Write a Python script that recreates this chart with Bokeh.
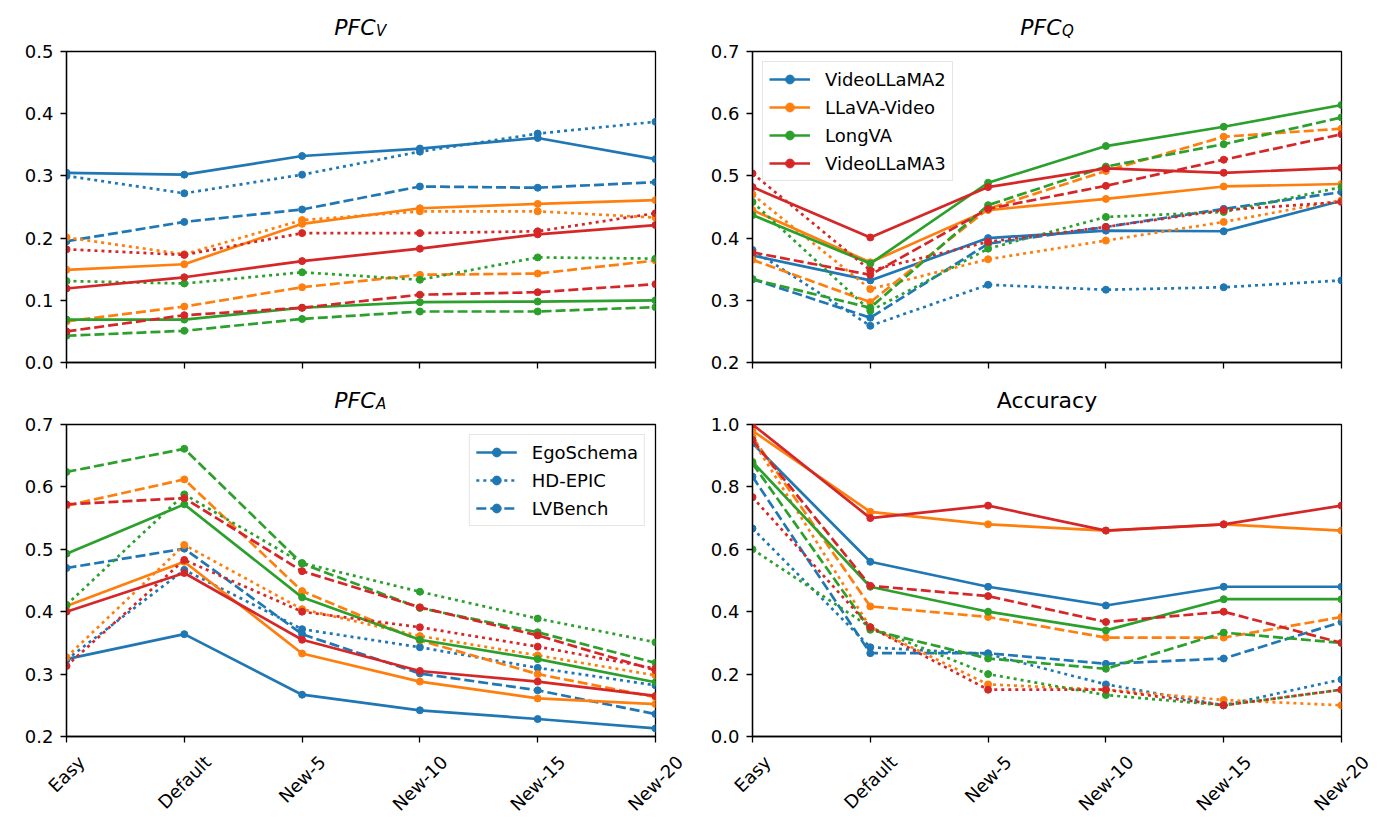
import math
from bokeh.plotting import figure
from bokeh.layouts import column, row
from bokeh.models import Range1d, FixedTicker, NumeralTickFormatter, Legend, LegendItem
from bokeh.core.properties import value
from bokeh.embed import file_html
from bokeh.resources import INLINE

categories = ["Easy", "Default", "New-5", "New-10", "New-15", "New-20"]
models = ["VideoLLaMA2", "LLaVA-Video", "LongVA", "VideoLLaMA3"]
datasets = ["EgoSchema", "HD-EPIC", "LVBench"]

# ---------------- PFC_V ----------------
v_vl2_ego = [0.305, 0.302, 0.332, 0.344, 0.361, 0.327]
v_vl2_hd  = [0.300, 0.272, 0.302, 0.339, 0.368, 0.387]
v_vl2_lv  = [0.195, 0.226, 0.246, 0.283, 0.281, 0.290]
v_llv_ego = [0.149, 0.158, 0.223, 0.248, 0.255, 0.261]
v_llv_hd  = [0.201, 0.174, 0.229, 0.243, 0.243, 0.233]
v_llv_lv  = [0.066, 0.090, 0.121, 0.141, 0.143, 0.164]
v_lva_ego = [0.069, 0.069, 0.088, 0.097, 0.098, 0.100]
v_lva_hd  = [0.131, 0.127, 0.145, 0.133, 0.169, 0.167]
v_lva_lv  = [0.043, 0.051, 0.070, 0.082, 0.082, 0.089]
v_vl3_ego = [0.119, 0.137, 0.163, 0.183, 0.206, 0.221]
v_vl3_hd  = [0.182, 0.173, 0.208, 0.208, 0.211, 0.240]
v_vl3_lv  = [0.050, 0.076, 0.088, 0.109, 0.113, 0.126]

# ---------------- PFC_Q ----------------
q_vl2_ego = [0.372, 0.332, 0.400, 0.412, 0.411, 0.460]
q_vl2_hd  = [0.381, 0.259, 0.325, 0.317, 0.321, 0.332]
q_vl2_lv  = [0.334, 0.272, 0.391, 0.418, 0.447, 0.474]
q_llv_ego = [0.445, 0.361, 0.445, 0.463, 0.483, 0.487]
q_llv_hd  = [0.470, 0.318, 0.366, 0.396, 0.426, 0.461]
q_llv_lv  = [0.365, 0.297, 0.447, 0.508, 0.563, 0.576]
q_lva_ego = [0.437, 0.359, 0.489, 0.548, 0.579, 0.614]
q_lva_hd  = [0.458, 0.283, 0.383, 0.434, 0.442, 0.482]
q_lva_lv  = [0.334, 0.288, 0.453, 0.515, 0.551, 0.594]
q_vl3_ego = [0.482, 0.401, 0.482, 0.512, 0.505, 0.513]
q_vl3_hd  = [0.504, 0.348, 0.394, 0.418, 0.445, 0.458]
q_vl3_lv  = [0.377, 0.341, 0.447, 0.484, 0.526, 0.567]

# ---------------- PFC_A ----------------
a_vl2_ego = [0.324, 0.364, 0.267, 0.242, 0.228, 0.213]
a_vl2_hd  = [0.323, 0.467, 0.372, 0.343, 0.310, 0.282]
a_vl2_lv  = [0.470, 0.501, 0.364, 0.301, 0.274, 0.236]
a_llv_ego = [0.409, 0.480, 0.333, 0.288, 0.261, 0.252]
a_llv_hd  = [0.327, 0.507, 0.404, 0.361, 0.330, 0.298]
a_llv_lv  = [0.570, 0.612, 0.433, 0.354, 0.300, 0.263]
a_lva_ego = [0.493, 0.572, 0.423, 0.355, 0.324, 0.287]
a_lva_hd  = [0.411, 0.588, 0.478, 0.432, 0.389, 0.351]
a_lva_lv  = [0.624, 0.661, 0.477, 0.406, 0.367, 0.318]
a_vl3_ego = [0.400, 0.462, 0.355, 0.305, 0.288, 0.265]
a_vl3_hd  = [0.313, 0.483, 0.400, 0.375, 0.344, 0.309]
a_vl3_lv  = [0.572, 0.582, 0.465, 0.407, 0.362, 0.306]

# ---------------- Accuracy ----------------
acc_vl2_ego = [0.940, 0.560, 0.480, 0.420, 0.480, 0.480]
acc_vl2_hd  = [0.667, 0.286, 0.264, 0.167, 0.100, 0.183]
acc_vl2_lv  = [0.833, 0.267, 0.267, 0.233, 0.250, 0.367]
acc_llv_ego = [0.980, 0.720, 0.680, 0.660, 0.680, 0.660]
acc_llv_hd  = [0.950, 0.350, 0.167, 0.150, 0.117, 0.100]
acc_llv_lv  = [0.960, 0.417, 0.383, 0.317, 0.317, 0.383]
acc_lva_ego = [0.880, 0.480, 0.400, 0.340, 0.440, 0.440]
acc_lva_hd  = [0.600, 0.350, 0.200, 0.133, 0.100, 0.150]
acc_lva_lv  = [0.875, 0.342, 0.250, 0.217, 0.333, 0.300]
acc_vl3_ego = [1.000, 0.700, 0.740, 0.660, 0.680, 0.740]
acc_vl3_hd  = [0.767, 0.350, 0.150, 0.150, 0.100, 0.150]
acc_vl3_lv  = [0.950, 0.483, 0.450, 0.367, 0.400, 0.300]

panel_v = [[v_vl2_ego, v_vl2_hd, v_vl2_lv], [v_llv_ego, v_llv_hd, v_llv_lv],
           [v_lva_ego, v_lva_hd, v_lva_lv], [v_vl3_ego, v_vl3_hd, v_vl3_lv]]
panel_q = [[q_vl2_ego, q_vl2_hd, q_vl2_lv], [q_llv_ego, q_llv_hd, q_llv_lv],
           [q_lva_ego, q_lva_hd, q_lva_lv], [q_vl3_ego, q_vl3_hd, q_vl3_lv]]
panel_a = [[a_vl2_ego, a_vl2_hd, a_vl2_lv], [a_llv_ego, a_llv_hd, a_llv_lv],
           [a_lva_ego, a_lva_hd, a_lva_lv], [a_vl3_ego, a_vl3_hd, a_vl3_lv]]
panel_acc = [[acc_vl2_ego, acc_vl2_hd, acc_vl2_lv], [acc_llv_ego, acc_llv_hd, acc_llv_lv],
             [acc_lva_ego, acc_lva_hd, acc_lva_lv], [acc_vl3_ego, acc_vl3_hd, acc_vl3_lv]]

FONT = "DejaVu Sans"
COLORS = ["#1f77b4", "#ff7f0e", "#2ca02c", "#d62728"]
DASHES = ["solid", "3 4", "10 4"]
LW = 2.7

xs = list(range(len(categories)))
NX = len(categories) - 1

# approximate DejaVu Sans advance widths (em) used only to centre rotated labels
CW = {"E": .632, "a": .613, "s": .521, "y": .592, "D": .770, "e": .615, "f": .352,
      "u": .634, "l": .278, "t": .392, "N": .748, "w": .818, "-": .361, "0": .636,
      "1": .636, "2": .636, "5": .636}

# column geometry (left border, right border)
LEFT = (66, 40)
RIGHT = (57, 34)
FRAME_W = 589
PX_PER_UNIT = FRAME_W / NX
GAP = 11          # border between frame and neighbouring strip
LABEL_H = 72


def fig_w(b):
    return b[0] + FRAME_W + b[1]


def make_panel(data, ymin, ymax, ystep, b, height, bt, bb):
    p = figure(width=fig_w(b), height=height, output_backend="svg", toolbar_location=None,
               x_range=Range1d(0, NX), y_range=Range1d(ymin, ymax),
               min_border_left=b[0], min_border_right=b[1], min_border_top=bt, min_border_bottom=bb,
               background_fill_color="white", border_fill_color="white")
    p.grid.visible = False
    p.outline_line_color = "black"
    p.outline_line_width = 1.3

    nt = int(round((ymax - ymin) / ystep))
    p.yaxis.ticker = FixedTicker(ticks=[round(ymin + k * ystep, 3) for k in range(nt + 1)])
    p.yaxis.formatter = NumeralTickFormatter(format="0.0")
    p.xaxis.ticker = FixedTicker(ticks=xs)
    for ax in (p.xaxis[0], p.yaxis[0]):
        ax.axis_line_color = "black"
        ax.axis_line_width = 1.3
        ax.major_tick_line_color = "black"
        ax.major_tick_line_width = 1.3
        ax.major_tick_in = 0
        ax.major_tick_out = 6
        ax.minor_tick_line_color = None
        ax.major_label_text_font = FONT
        ax.major_label_text_font_size = "18px"
        ax.major_label_text_color = "black"
    p.yaxis.major_label_standoff = 7
    p.xaxis.major_label_overrides = {i: "" for i in xs}
    p.xaxis.major_label_text_font_size = "0px"
    p.xaxis.major_label_standoff = 0

    rends = {}
    for mi, m in enumerate(models):
        for di, d in enumerate(datasets):
            ys = data[mi][di]
            lr = p.line(xs, ys, line_color=COLORS[mi], line_width=LW, line_dash=DASHES[di])
            sr = p.scatter(xs, ys, size=7, fill_color=COLORS[mi], line_color=COLORS[mi])
            rends[(mi, di)] = (lr, sr)
    return p, rends


def strip(b, h, y0, y1):
    # full-width frame whose x scale matches the panel below/above it
    x0 = -b[0] / PX_PER_UNIT
    x1 = NX + b[1] / PX_PER_UNIT
    s = figure(width=fig_w(b), height=h, output_backend="svg", toolbar_location=None,
               x_range=Range1d(x0, x1), y_range=Range1d(y0, y1),
               x_axis_type=None, y_axis_type=None,
               min_border_left=0, min_border_right=0, min_border_top=0, min_border_bottom=0,
               background_fill_color="white", border_fill_color="white")
    s.outline_line_color = None
    return s


def title_strip(b, h, main, sub):
    s = strip(b, h, 0, h)
    xc = NX / 2.0
    if sub:
        wm = 22 * 1.80
        ws = 15 * 0.70
        off = (wm + ws) / 2 - ws
        s.text(x=[xc], y=[13.5], text=[main], text_font=value(FONT), text_font_size="22px",
               text_font_style="italic", text_align="right", text_baseline="middle",
               x_offset=off, text_color="black")
        s.text(x=[xc], y=[9.5], text=[sub], text_font=value(FONT), text_font_size="15px",
               text_font_style="italic", text_align="left", text_baseline="middle",
               x_offset=off + 0.5, text_color="black")
    else:
        s.text(x=[xc], y=[13.5], text=[main], text_font=value(FONT), text_font_size="22px",
               text_align="center", text_baseline="middle", text_color="black")
    return s


def label_strip(b, h):
    # y in pixels below the axis line (top of strip = GAP px below axis)
    s = strip(b, h, -(GAP + h), -GAP)
    ys = []
    for c in categories:
        w = sum(CW.get(ch, 0.6) for ch in c) * 18
        ys.append(-(15 + (w + 21) * 0.3536))
    s.text(x=xs, y=ys, text=categories, angle=math.pi / 4, text_font=value(FONT),
           text_font_size="18px", text_align="center", text_baseline="middle", text_color="black")
    return s


def style_legend(lg):
    lg.label_text_font = FONT
    lg.label_text_font_size = "18px"
    lg.label_text_color = "black"
    lg.label_height = 22
    lg.glyph_height = 22
    lg.glyph_width = 41
    lg.label_standoff = 15
    lg.spacing = 6
    lg.padding = 6
    lg.margin = 10
    lg.border_line_color = "#cccccc"
    lg.border_line_width = 1.3
    lg.background_fill_color = "white"
    lg.background_fill_alpha = 0.8


t1 = title_strip(LEFT, 40, "PFC", "V")
t2 = title_strip(RIGHT, 40, "PFC", "Q")
p1, r1 = make_panel(panel_v, 0.0, 0.5, 0.1, LEFT, GAP + 311 + 20, GAP, 20)
p2, r2 = make_panel(panel_q, 0.2, 0.7, 0.1, RIGHT, GAP + 311 + 20, GAP, 20)
t3 = title_strip(LEFT, 31, "PFC", "A")
t4 = title_strip(RIGHT, 31, "Accuracy", None)
p3, r3 = make_panel(panel_a, 0.2, 0.7, 0.1, LEFT, GAP + 312 + GAP, GAP, GAP)
p4, r4 = make_panel(panel_acc, 0.0, 1.0, 0.2, RIGHT, GAP + 312 + GAP, GAP, GAP)
l3 = label_strip(LEFT, LABEL_H)
l4 = label_strip(RIGHT, LABEL_H)

lg_models = Legend(items=[LegendItem(label=m, renderers=list(r2[(mi, 0)])) for mi, m in enumerate(models)],
                   location="top_left")
style_legend(lg_models)
p2.add_layout(lg_models)

lg_data = Legend(items=[LegendItem(label=d, renderers=list(r3[(0, di)])) for di, d in enumerate(datasets)],
                 location="top_right")
style_legend(lg_data)
p3.add_layout(lg_data)

layout = column(row(t1, t2), row(p1, p2), row(t3, t4), row(p3, p4), row(l3, l4))

open("out.html", "w").write(file_html(layout, INLINE))
